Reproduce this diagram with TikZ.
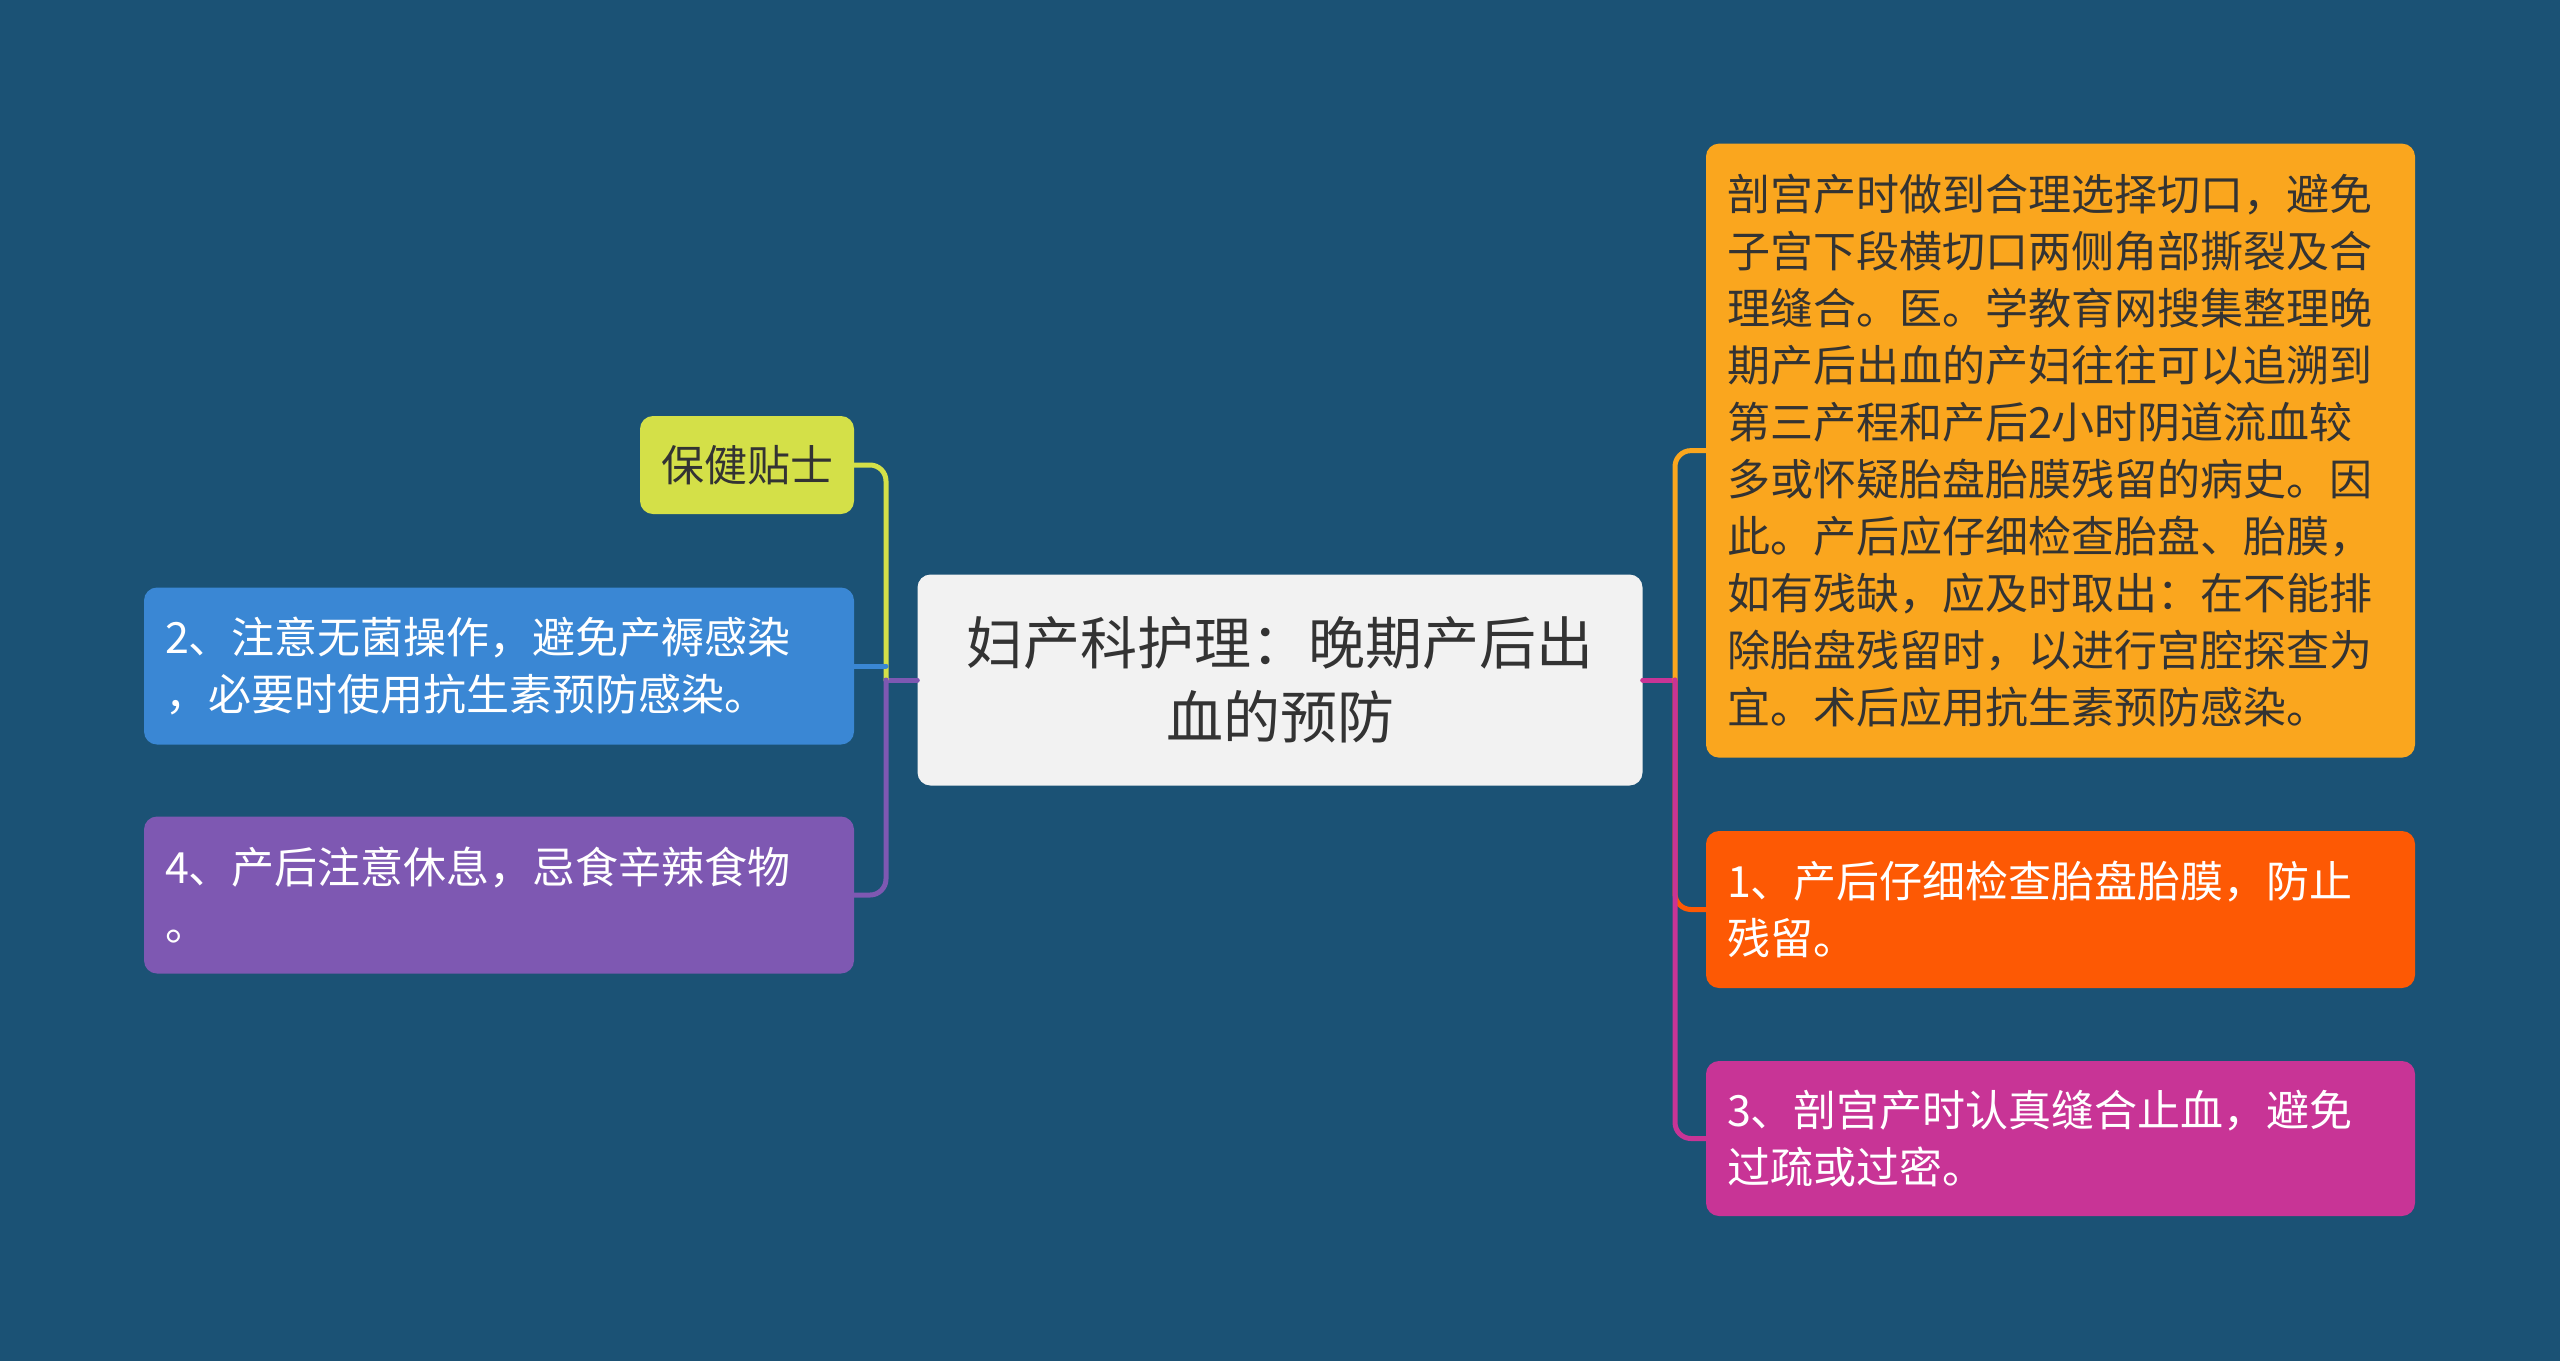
\documentclass[tikz,border=0pt]{standalone}
\usepackage{fontspec}
\newfontfamily\cjk{Noto Sans CJK SC}
\definecolor{bg}{RGB}{27,82,117}
\definecolor{rootfill}{RGB}{242,242,242}
\definecolor{darktext}{RGB}{51,51,51}
\definecolor{cyellow}{RGB}{212,224,72}
\definecolor{cblue}{RGB}{58,135,212}
\definecolor{cpurple}{RGB}{126,88,178}
\definecolor{corange}{RGB}{250,166,30}
\definecolor{cred}{RGB}{253,89,4}
\definecolor{cmagenta}{RGB}{200,52,150}
\tikzset{
  box/.style={rounded corners=13, inner xsep=21, inner ysep=0, align=left, anchor=center, font=\cjk\fontsize{43}{57}\selectfont},
  conn/.style={line width=5, line cap=round},
}
\begin{document}
\begin{tikzpicture}[x=1pt,y=-1pt]
\fill[bg] (0,0) rectangle (2560,1361);
\useasboundingbox (0,0) rectangle (2560,1361);

% root
\node[box, fill=rootfill, text=darktext, align=center, minimum width=725, minimum height=211, text width=683,
      font=\cjk\fontsize{57}{73.5}\selectfont] (root) at (1280,680) {妇产科护理：晚期产后出\\血的预防};

% left
\node[box, fill=cyellow, text=darktext, minimum width=214, minimum height=98, align=center] (tip) at (747,465) {保健贴士};
\node[box, fill=cblue, text=white, minimum width=710, minimum height=157, text width=668] (n2) at (499,666) {2、注意无菌操作，避免产褥感染\\，必要时使用抗生素预防感染。};
\node[box, fill=cpurple, text=white, minimum width=710, minimum height=157, text width=668] (n4) at (499,895) {4、产后注意休息，忌食辛辣食物\\。};

% right
\node[box, fill=corange, text=darktext, minimum width=709, minimum height=614, text width=667] (big) at (2060.5,450.6) {剖宫产时做到合理选择切口，避免\\子宫下段横切口两侧角部撕裂及合\\理缝合。医。学教育网搜集整理晚\\期产后出血的产妇往往可以追溯到\\第三产程和产后2小时阴道流血较\\多或怀疑胎盘胎膜残留的病史。因\\此。产后应仔细检查胎盘、胎膜，\\如有残缺，应及时取出：在不能排\\除胎盘残留时，以进行宫腔探查为\\宜。术后应用抗生素预防感染。};
\node[box, fill=cred, text=white, minimum width=709, minimum height=157, text width=667] (n1) at (2060.5,909.5) {1、产后仔细检查胎盘胎膜，防止\\残留。};
\node[box, fill=cmagenta, text=white, minimum width=709, minimum height=155, text width=667] (n3) at (2060.5,1138.5) {3、剖宫产时认真缝合止血，避免\\过疏或过密。};

% trunks
\coordinate (tl) at (886,680);
\coordinate (tr) at (1675,680);

\draw[conn, cpurple] (root.west) -- (tl);
\draw[conn, cyellow, rounded corners=16] (tl) |- (tip.east);
\draw[conn, cblue] (tl |- n2.east) -- (n2.east);
\draw[conn, cpurple, rounded corners=16] (tl) |- (n4.east);

\draw[conn, cmagenta] (root.east) -- (tr);
\draw[conn, corange, rounded corners=16] (tr) |- (big.west);
\draw[conn, cred, rounded corners=16] (tr) |- (n1.west);
\draw[conn, cmagenta, rounded corners=16] (tr) |- (n3.west);
\end{tikzpicture}
\end{document}
